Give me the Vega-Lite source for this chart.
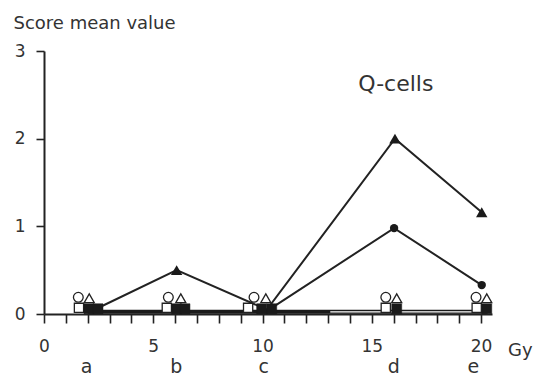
{
  "$schema": "https://vega.github.io/schema/vega-lite/v6.json",
  "width": 448,
  "height": 263,
  "autosize": {"type": "none"},
  "padding": {"left": 44, "top": 51, "right": 45, "bottom": 62},
  "background": "white",
  "config": {
    "view": {"stroke": null},
    "font": "DejaVu Sans",
    "axis": {"grid": false, "domainColor": "#222", "tickColor": "#222", "labelColor": "#333", "labelFont": "DejaVu Sans"}
  },
  "datasets": {
    "lines": [
      {"series": "base", "dose": 2.0, "score": 0.025},
      {"series": "base", "dose": 20.3, "score": 0.025},
      {"series": "inner", "dose": 13.1, "score": 0.025},
      {"series": "inner", "dose": 19.8, "score": 0.025},
      {"series": "tri", "dose": 2.4, "score": 0.06},
      {"series": "tri", "dose": 6.07, "score": 0.5},
      {"series": "tri", "dose": 10.2, "score": 0.05},
      {"series": "tri", "dose": 16.06, "score": 2.0},
      {"series": "tri", "dose": 20.03, "score": 1.16},
      {"series": "circ", "dose": 10.3, "score": 0.05},
      {"series": "circ", "dose": 16.02, "score": 0.98},
      {"series": "circ", "dose": 20.03, "score": 0.33}
    ],
    "markers": [
      {"kind": "open square", "dose": 1.6, "score": 0.07},
      {"kind": "open square", "dose": 5.62, "score": 0.07},
      {"kind": "open square", "dose": 9.34, "score": 0.07},
      {"kind": "open square", "dose": 15.64, "score": 0.07},
      {"kind": "open square", "dose": 19.8, "score": 0.07},
      {"kind": "open circle", "dose": 1.57, "score": 0.19},
      {"kind": "open circle", "dose": 5.69, "score": 0.19},
      {"kind": "open circle", "dose": 9.61, "score": 0.19},
      {"kind": "open circle", "dose": 15.64, "score": 0.19},
      {"kind": "open circle", "dose": 19.77, "score": 0.19},
      {"kind": "open triangle", "dose": 2.07, "score": 0.18},
      {"kind": "open triangle", "dose": 6.26, "score": 0.18},
      {"kind": "open triangle", "dose": 10.15, "score": 0.18},
      {"kind": "open triangle", "dose": 16.14, "score": 0.18},
      {"kind": "open triangle", "dose": 20.26, "score": 0.18},
      {"kind": "filled square", "dose": 2.06, "score": 0.06},
      {"kind": "filled square", "dose": 2.47, "score": 0.06},
      {"kind": "filled square", "dose": 6.07, "score": 0.06},
      {"kind": "filled square", "dose": 6.45, "score": 0.06},
      {"kind": "filled square", "dose": 9.96, "score": 0.06},
      {"kind": "filled square", "dose": 10.42, "score": 0.06},
      {"kind": "filled square", "dose": 16.14, "score": 0.06},
      {"kind": "filled square", "dose": 20.26, "score": 0.06},
      {"kind": "filled triangle", "dose": 6.07, "score": 0.5},
      {"kind": "filled triangle", "dose": 16.06, "score": 2.0},
      {"kind": "filled triangle", "dose": 20.03, "score": 1.16},
      {"kind": "filled circle", "dose": 16.02, "score": 0.98},
      {"kind": "filled circle", "dose": 20.03, "score": 0.33}
    ],
    "labels": [
      {"dose": 1.95, "score": 0, "text": "a"},
      {"dose": 6.05, "score": 0, "text": "b"},
      {"dose": 10.05, "score": 0, "text": "c"},
      {"dose": 16.0, "score": 0, "text": "d"},
      {"dose": 19.65, "score": 0, "text": "e"}
    ],
    "notes": [
      {"dose": 21.8, "score": 0, "text": "Gy"}
    ],
    "panel": [
      {"dose": 16.1, "score": 2.54, "text": "Q-cells"}
    ]
  },
  "encoding": {
    "x": {
      "field": "dose", "type": "quantitative",
      "scale": {"domain": [0, 20.5], "nice": false, "zero": false},
      "axis": {
        "title": null,
        "values": [0,1,2,3,4,5,6,7,8,9,10,11,12,13,14,15,16,17,18,19,20],
        "labelExpr": "datum.value % 5 === 0 ? datum.label : ''",
        "domainWidth": 2, "tickWidth": 1.6, "tickSize": 9,
        "labelFontSize": 17, "labelPadding": 15, "labelFlush": false, "labelOverlap": false
      }
    },
    "y": {
      "field": "score", "type": "quantitative",
      "scale": {"domain": [0, 3], "nice": false},
      "axis": {
        "title": "Score mean value",
        "titleAngle": 0, "titleAlign": "left", "titleBaseline": "alphabetic",
        "titleX": -31, "titleY": -23, "titleFontSize": 18, "titleFontWeight": "normal", "titleColor": "#333",
        "values": [0, 1, 2, 3],
        "domainWidth": 2, "tickWidth": 1.6, "tickSize": 8,
        "labelFontSize": 17, "labelPadding": 11
      }
    }
  },
  "layer": [
    {
      "data": {"name": "lines"},
      "transform": [{"filter": "datum.series === 'base'"}],
      "mark": {"type": "line", "color": "#1a1a1a", "strokeWidth": 4},
      "encoding": {}
    },
    {
      "data": {"name": "lines"},
      "transform": [{"filter": "datum.series === 'inner'"}],
      "mark": {"type": "line", "color": "white", "strokeWidth": 1.2},
      "encoding": {}
    },
    {
      "data": {"name": "lines"},
      "transform": [{"filter": "datum.series === 'tri' || datum.series === 'circ'"}],
      "mark": {"type": "line", "color": "#222", "strokeWidth": 2},
      "encoding": {"detail": {"field": "series"}}
    },
    {
      "data": {"name": "markers"},
      "transform": [{"filter": "datum.kind === 'open square'"}],
      "mark": {"type": "point", "shape": "square", "filled": true, "fill": "white", "stroke": "#222", "strokeWidth": 1.3, "size": 85, "opacity": 1}
    },
    {
      "data": {"name": "markers"},
      "transform": [{"filter": "datum.kind === 'open circle'"}],
      "mark": {"type": "point", "shape": "circle", "filled": true, "fill": "white", "stroke": "#222", "strokeWidth": 1.3, "size": 95, "opacity": 1}
    },
    {
      "data": {"name": "markers"},
      "transform": [{"filter": "datum.kind === 'open triangle'"}],
      "mark": {"type": "point", "shape": "triangle-up", "filled": true, "fill": "white", "stroke": "#222", "strokeWidth": 1.3, "size": 100, "opacity": 1}
    },
    {
      "data": {"name": "markers"},
      "transform": [{"filter": "datum.kind === 'filled square'"}],
      "mark": {"type": "point", "shape": "square", "filled": true, "fill": "#1a1a1a", "stroke": "#1a1a1a", "strokeWidth": 0.5, "size": 100, "opacity": 1}
    },
    {
      "data": {"name": "markers"},
      "transform": [{"filter": "datum.kind === 'filled triangle'"}],
      "mark": {"type": "point", "shape": "triangle-up", "filled": true, "fill": "#1a1a1a", "size": 130, "opacity": 1}
    },
    {
      "data": {"name": "markers"},
      "transform": [{"filter": "datum.kind === 'filled circle'"}],
      "mark": {"type": "point", "shape": "circle", "filled": true, "fill": "#1a1a1a", "size": 70, "opacity": 1}
    },
    {
      "data": {"name": "labels"},
      "mark": {"type": "text", "fontSize": 19, "color": "#333", "baseline": "alphabetic", "align": "center", "dy": 59, "font": "DejaVu Sans"},
      "encoding": {"text": {"field": "text"}}
    },
    {
      "data": {"name": "notes"},
      "mark": {"type": "text", "fontSize": 18, "color": "#333", "baseline": "alphabetic", "align": "center", "dy": 42, "font": "DejaVu Sans"},
      "encoding": {"text": {"field": "text"}}
    },
    {
      "data": {"name": "panel"},
      "mark": {"type": "text", "fontSize": 22, "color": "#333", "baseline": "alphabetic", "align": "center", "font": "DejaVu Sans"},
      "encoding": {"text": {"field": "text"}}
    }
  ]
}
